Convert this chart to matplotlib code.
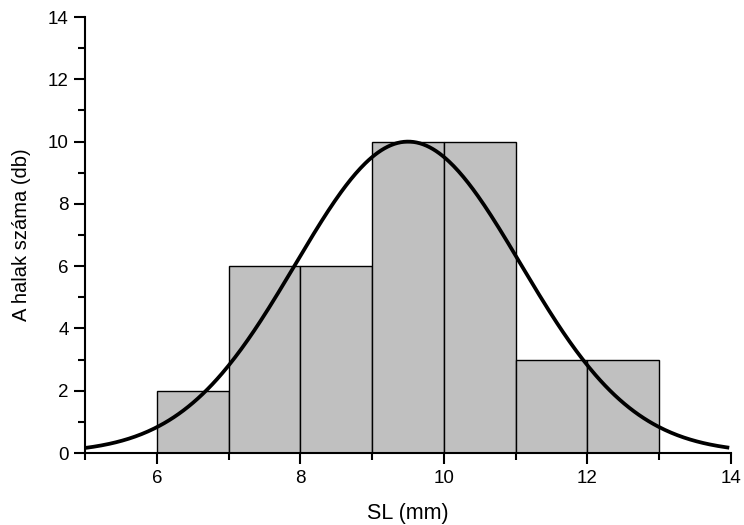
import numpy as np
import matplotlib
matplotlib.use("Agg")
import matplotlib.pyplot as plt
from matplotlib.ticker import MultipleLocator

plt.rcParams['font.family'] = ['Liberation Sans', 'DejaVu Sans']

bin_edges = [6, 7, 8, 9, 10, 11, 12, 13]
counts = [2, 6, 6, 10, 10, 3, 3]
curve_mean = 9.5
curve_sd = 1.57
curve_peak = 10.0
curve_range = (5.0, 13.95)

fig = plt.figure(figsize=(7.44, 5.25), dpi=100)
ax = fig.add_axes([0.1145, 0.137, 0.868, 0.8306])

lefts = bin_edges[:-1]
widths = np.diff(bin_edges)
ax.bar(lefts, counts, width=widths, align='edge', color='#c0c0c0',
       edgecolor='black', linewidth=1.0, zorder=2)

xs = np.linspace(curve_range[0], curve_range[1], 400)
ys = curve_peak * np.exp(-(xs - curve_mean) ** 2 / (2 * curve_sd ** 2))
ax.plot(xs, ys, color='black', linewidth=2.7, zorder=3)

ax.set_xlim(5, 14)
ax.set_ylim(0, 14)
ax.xaxis.set_major_locator(MultipleLocator(2))
ax.xaxis.set_minor_locator(MultipleLocator(1))
ax.yaxis.set_major_locator(MultipleLocator(2))
ax.yaxis.set_minor_locator(MultipleLocator(1))
for s in ['top', 'right']:
    ax.spines[s].set_visible(False)
for s in ['left', 'bottom']:
    ax.spines[s].set_linewidth(1.5)
ax.tick_params(which='major', direction='out', length=8, width=1.5, labelsize=13.5,
               colors='black', pad=4)
ax.tick_params(which='minor', direction='out', length=5, width=1.5)

ax.set_xlabel('SL (mm)', fontsize=15.5, labelpad=12)
ax.set_ylabel('A halak száma (db)', fontsize=14.5, labelpad=12)

fig.savefig('out.png', dpi=100)
